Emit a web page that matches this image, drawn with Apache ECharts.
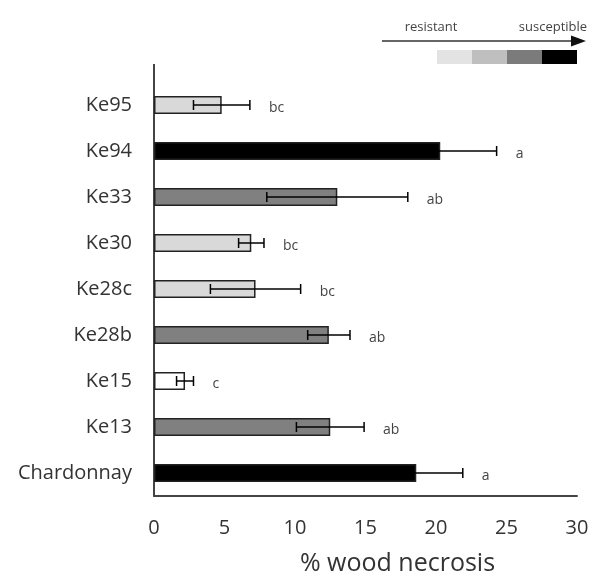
<!DOCTYPE html>
<html>
<head>
<meta charset="utf-8">
<script src="https://cdn.jsdelivr.net/npm/echarts@6/dist/echarts.min.js"></script>
<style>
  html, body { margin: 0; padding: 0; background: #fff; }
  #chart { width: 596px; height: 578px; }
</style>
</head>
<body>
<div id="chart"></div>
<script>
// wood necrosis per genotype (mean, error), top to bottom
const categories = ['Ke95', 'Ke94', 'Ke33', 'Ke30', 'Ke28c', 'Ke28b', 'Ke15', 'Ke13', 'Chardonnay'];
const means = [4.8, 20.3, 13.0, 6.9, 7.2, 12.4, 2.2, 12.5, 18.6];
const errors = [2.0, 4.0, 5.0, 0.9, 3.2, 1.5, 0.6, 2.4, 3.3];
const letters = ['bc', 'a', 'ab', 'bc', 'bc', 'ab', 'c', 'ab', 'a'];
const shadeIdx = [1, 3, 2, 1, 1, 2, 0, 2, 3];
const barShades = ['#ffffff', '#d9d9d9', '#808080', '#000000'];
const legendShades = ['#e3e3e3', '#bfbfbf', '#7b7b7b', '#000000'];
const xTicks = [0, 5, 10, 15, 20, 25, 30];

const font = '"Open Sans", "Noto Sans", sans-serif';
const chart = echarts.init(document.getElementById('chart'));

const legendBoxes = legendShades.map(function (c, i) {
  return {
    type: 'rect',
    shape: { x: 437 + i * 35, y: 50, width: 35, height: 14 },
    style: { fill: c }
  };
});

const option = {
  animation: false,
  grid: { left: 154, right: 19, top: 82, bottom: 82, outerBoundsMode: 'none' },
  xAxis: {
    type: 'value',
    min: xTicks[0],
    max: xTicks[xTicks.length - 1],
    interval: 5,
    name: '% wood necrosis',
    nameLocation: 'middle',
    nameGap: 55,
    nameTextStyle: { fontFamily: font, fontSize: 25, color: '#333', padding: [0, 0, 0, 64] },
    axisLine: { show: true, lineStyle: { color: '#444', width: 2 } },
    axisTick: { show: false },
    splitLine: { show: false },
    axisLabel: { fontFamily: font, fontSize: 20, color: '#333', margin: 22 }
  },
  yAxis: {
    type: 'category',
    inverse: true,
    data: categories,
    axisLine: { show: true, lineStyle: { color: '#444', width: 2 } },
    axisTick: { show: false },
    axisLabel: { fontFamily: font, fontSize: 20, color: '#333', margin: 22 }
  },
  series: [
    {
      type: 'bar',
      barWidth: 18,
      data: means.map(function (v, i) {
        return {
          value: v,
          itemStyle: { color: barShades[shadeIdx[i]], borderColor: '#222', borderWidth: 1.5 }
        };
      }),
      z: 2
    },
    {
      type: 'custom',
      z: 3,
      data: means.map(function (v, i) { return [i, v - errors[i], v + errors[i]]; }),
      encode: { x: [1, 2], y: 0 },
      renderItem: function (params, api) {
        const idx = api.value(0);
        const lo = api.coord([api.value(1), idx]);
        const hi = api.coord([api.value(2), idx]);
        const y = lo[1];
        const cap = 5;
        const stroke = { stroke: '#000', lineWidth: 1.5 };
        return {
          type: 'group',
          children: [
            { type: 'line', shape: { x1: lo[0], y1: y, x2: hi[0], y2: y }, style: stroke },
            { type: 'line', shape: { x1: lo[0], y1: y - cap, x2: lo[0], y2: y + cap }, style: stroke },
            { type: 'line', shape: { x1: hi[0], y1: y - cap, x2: hi[0], y2: y + cap }, style: stroke },
            {
              type: 'text',
              x: hi[0] + 19,
              y: y + 3,
              style: {
                text: letters[params.dataIndex],
                fontFamily: font,
                fontSize: 14,
                fill: '#444',
                align: 'left',
                verticalAlign: 'middle'
              }
            }
          ]
        };
      }
    }
  ],
  graphic: [
    { type: 'line', shape: { x1: 154, y1: 64, x2: 154, y2: 83 }, style: { stroke: '#444', lineWidth: 2 } },
    { type: 'line', shape: { x1: 382, y1: 41, x2: 574, y2: 41 }, style: { stroke: '#333', lineWidth: 1.5 } },
    { type: 'polygon', shape: { points: [[571, 35.5], [586, 41], [571, 46.5]] }, style: { fill: '#111' } },
    { type: 'text', x: 431, y: 27, style: { text: 'resistant', fontFamily: font, fontSize: 13, fill: '#444', align: 'center', verticalAlign: 'middle' } },
    { type: 'text', x: 553, y: 27, style: { text: 'susceptible', fontFamily: font, fontSize: 13, fill: '#444', align: 'center', verticalAlign: 'middle' } }
  ].concat(legendBoxes)
};

chart.setOption(option);
</script>
</body>
</html>
